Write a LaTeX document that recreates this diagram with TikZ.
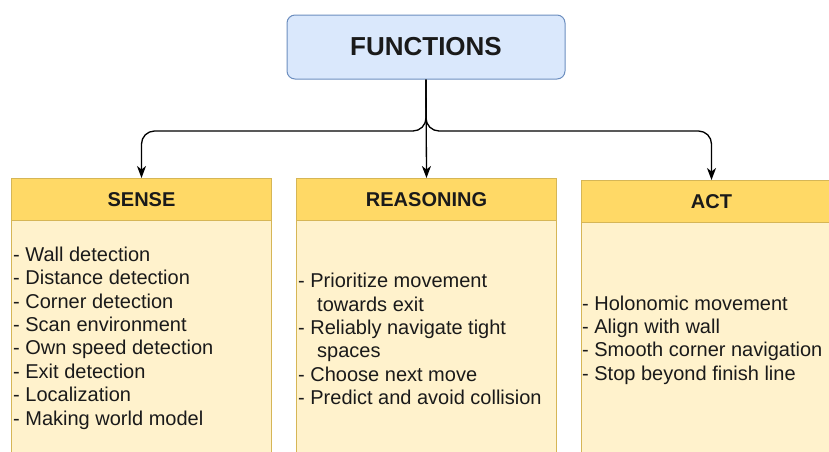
\documentclass[tikz,border=0pt]{standalone}
\usepackage{fontspec}
\setmainfont{Liberation Sans}
\usetikzlibrary{arrows.meta}
\definecolor{fblue}{HTML}{DAE8FC}
\definecolor{sblue}{HTML}{6C8EBF}
\definecolor{hyel}{HTML}{FFD966}
\definecolor{byel}{HTML}{FFF2CC}
\definecolor{syel}{HTML}{D6B656}
\definecolor{txt}{HTML}{1A1A1A}
\tikzset{
  funbox/.style={draw=sblue, fill=fblue, line width=1pt, rounded corners=8pt,
    minimum width=278pt, minimum height=64pt, inner sep=0pt,
    font=\fontsize{26}{30}\selectfont\bfseries, text=txt},
  headbox/.style={draw=syel, fill=hyel, line width=1pt, anchor=north west,
    minimum width=260pt, minimum height=42pt, inner sep=0pt,
    font=\fontsize{20}{23.4}\selectfont\bfseries, text=txt},
  bodybox/.style={draw=syel, fill=byel, line width=1pt, anchor=north west,
    minimum width=260pt, minimum height=238pt, inner sep=0pt},
  listtext/.style={anchor=west, align=left, inner sep=0pt, text=txt,
    font=\fontsize{20}{23.4}\selectfont},
  conn/.style={line width=1.3pt, draw=black, rounded corners=13pt,
    -{Stealth[length=12pt,width=9pt,inset=3.5pt]}}
}
\begin{document}
\begin{tikzpicture}[x=1pt,y=-1pt]
\useasboundingbox (0,0) rectangle (829,451);
\begin{scope}
\clip (0,0) rectangle (829,451);
\node[funbox] (F) at (426,47) {FUNCTIONS};

\node[bodybox] (Sb) at (11,220) {};
\node[headbox] (S) at (11,178) {SENSE};
\node[bodybox] (Rb) at (296,220) {};
\node[headbox] (R) at (296,178) {REASONING};
\node[bodybox] (Ab) at (581,222) {};
\node[headbox] (A) at (581,180) {ACT};

\node[listtext] (St) at (13,338) {- Wall detection\\- Distance detection\\- Corner detection\\- Scan environment\\- Own speed detection\\- Exit detection\\- Localization\\- Making world model};
\node[listtext] (Rt) at (298,339) {- Prioritize movement\\\hspace*{19pt}towards exit\\- Reliably navigate tight\\\hspace*{19pt}spaces\\- Choose next move\\- Predict and avoid collision};
\node[listtext] (At) at (582,340) {- Holonomic movement\\- Align with wall\\- Smooth corner navigation\\- Stop beyond finish line};

\coordinate (J) at (426,131);
\draw[conn] (F.south) -- (J) -| (S.north);
\draw[conn] (F.south) -- (J) -| (A.north);
\draw[conn] (F.south) -- (R.north);
\end{scope}
\end{tikzpicture}
\end{document}
